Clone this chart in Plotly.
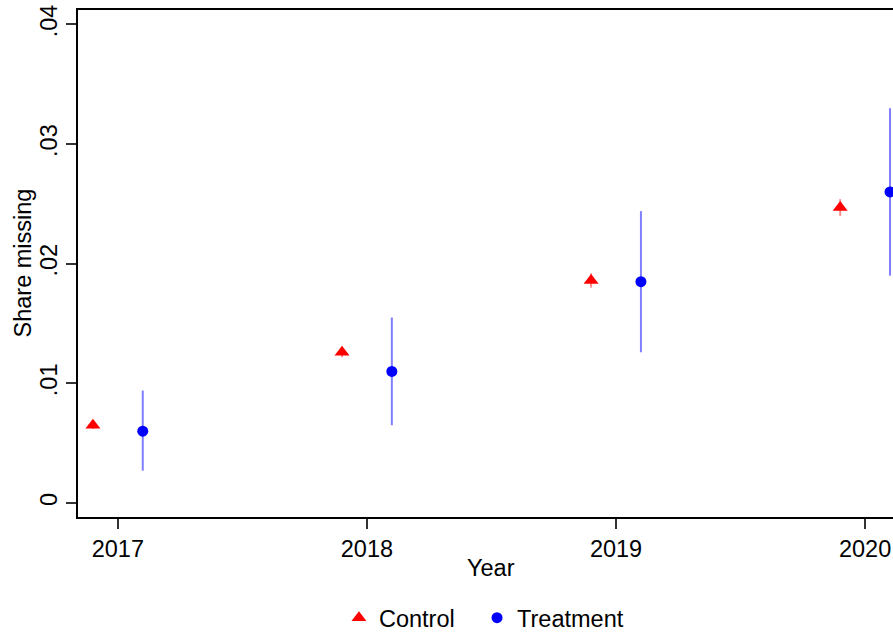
import plotly.graph_objects as go

years = [2017, 2018, 2019, 2020]
control = [0.0065, 0.0126, 0.0186, 0.0247]
control_lo = [0.0062, 0.0122, 0.0180, 0.0240]
control_hi = [0.0068, 0.0130, 0.0192, 0.0254]
treatment = [0.0060, 0.0110, 0.0185, 0.0260]
treat_lo = [0.0027, 0.0065, 0.0126, 0.0190]
treat_hi = [0.0094, 0.0155, 0.0244, 0.0330]
ytick_vals = [0, 0.01, 0.02, 0.03, 0.04]
ytick_text = ["0", ".01", ".02", ".03", ".04"]

FONT = "Liberation Sans, Arial, sans-serif"
FS = 23.5

cx = [y - 0.1 for y in years]
tx = [y + 0.1 for y in years]

fig = go.Figure()
fig.add_trace(go.Scatter(
    x=cx, y=control, mode="markers", name="Control", legend="legend",
    marker=dict(symbol="triangle-up", size=13, color="#ff0000"),
    error_y=dict(type="data", symmetric=False,
                 array=[h - v for h, v in zip(control_hi, control)],
                 arrayminus=[v - l for v, l in zip(control, control_lo)],
                 color="rgba(255,0,0,0.45)", thickness=2, width=0),
    cliponaxis=False,
))
fig.add_trace(go.Scatter(
    x=tx, y=treatment, mode="markers", name="Treatment", legend="legend2",
    marker=dict(symbol="circle", size=11, color="#0000ff"),
    error_y=dict(type="data", symmetric=False,
                 array=[h - v for h, v in zip(treat_hi, treatment)],
                 arrayminus=[v - l for v, l in zip(treatment, treat_lo)],
                 color="rgba(0,0,255,0.5)", thickness=2, width=0),
    cliponaxis=False,
))

fig.update_layout(
    width=893, height=633,
    margin=dict(l=78, r=0, t=10, b=116, autoexpand=False),
    paper_bgcolor="white", plot_bgcolor="white",
    font=dict(family=FONT, size=FS, color="black"),
    showlegend=True,
    legend=dict(orientation="h", x=0.3202, xanchor="left", y=-0.199, yanchor="middle",
                font=dict(size=FS), bgcolor="rgba(0,0,0,0)"),
    legend2=dict(orientation="h", x=0.4896, xanchor="left", y=-0.199, yanchor="middle",
                 font=dict(size=FS), bgcolor="rgba(0,0,0,0)"),
    xaxis=dict(range=[2016.84, 2020.112], tickvals=years, ticktext=[str(y) for y in years],
               showgrid=False, zeroline=False, showline=True, linecolor="black", linewidth=1.5,
               mirror=True, ticks="outside", ticklen=10, tickcolor="#333", tickwidth=1.5),
    yaxis=dict(range=[-0.00117, 0.04121], tickvals=ytick_vals, ticktext=ytick_text,
               tickangle=-90, showgrid=False, zeroline=False, showline=True,
               linecolor="black", linewidth=1.5, mirror=False, ticks="outside", ticklen=10,
               tickcolor="#333", tickwidth=1.5),
    annotations=[
        dict(text="Year", xref="paper", yref="paper", x=0.5067, y=-0.1006,
             xanchor="center", yanchor="middle", showarrow=False, font=dict(size=FS)),
        dict(text="Share missing", xref="paper", yref="paper", x=-0.0687, y=0.5,
             xanchor="center", yanchor="middle", textangle=-90, showarrow=False,
             xshift=0, font=dict(size=FS)),
    ],
)

fig.write_html("out.html")
